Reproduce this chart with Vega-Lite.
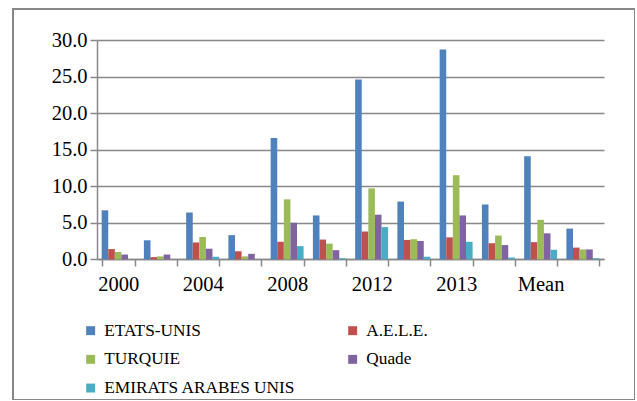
{
  "$schema": "https://vega.github.io/schema/vega-lite/v6.json",
  "autosize": {"type": "none"},
  "padding": {"left": 13, "top": 9, "right": 0, "bottom": 0},
  "width": 622,
  "height": 391,
  "background": "white",
  "config": {"view": {"stroke": "#878787", "strokeWidth": 2}, "font": "Liberation Serif"},
  "data": {"values": [
    {"period": "2000", "series": "ETATS-UNIS", "value": 6.7},
    {"period": "2000", "series": "A.E.L.E.", "value": 1.4},
    {"period": "2000", "series": "TURQUIE", "value": 1.0},
    {"period": "2000", "series": "Quade", "value": 0.65},
    {"period": "2000", "series": "EMIRATS ARABES UNIS", "value": 0.0},
    {"period": "2000_", "series": "ETATS-UNIS", "value": 2.6},
    {"period": "2000_", "series": "A.E.L.E.", "value": 0.3},
    {"period": "2000_", "series": "TURQUIE", "value": 0.4},
    {"period": "2000_", "series": "Quade", "value": 0.65},
    {"period": "2000_", "series": "EMIRATS ARABES UNIS", "value": 0.0},
    {"period": "2004", "series": "ETATS-UNIS", "value": 6.4},
    {"period": "2004", "series": "A.E.L.E.", "value": 2.3},
    {"period": "2004", "series": "TURQUIE", "value": 3.05},
    {"period": "2004", "series": "Quade", "value": 1.45},
    {"period": "2004", "series": "EMIRATS ARABES UNIS", "value": 0.35},
    {"period": "2004_", "series": "ETATS-UNIS", "value": 3.3},
    {"period": "2004_", "series": "A.E.L.E.", "value": 1.1},
    {"period": "2004_", "series": "TURQUIE", "value": 0.4},
    {"period": "2004_", "series": "Quade", "value": 0.75},
    {"period": "2004_", "series": "EMIRATS ARABES UNIS", "value": 0.0},
    {"period": "2008", "series": "ETATS-UNIS", "value": 16.6},
    {"period": "2008", "series": "A.E.L.E.", "value": 2.4},
    {"period": "2008", "series": "TURQUIE", "value": 8.2},
    {"period": "2008", "series": "Quade", "value": 5.0},
    {"period": "2008", "series": "EMIRATS ARABES UNIS", "value": 1.8},
    {"period": "2008_", "series": "ETATS-UNIS", "value": 6.0},
    {"period": "2008_", "series": "A.E.L.E.", "value": 2.7},
    {"period": "2008_", "series": "TURQUIE", "value": 2.15},
    {"period": "2008_", "series": "Quade", "value": 1.25},
    {"period": "2008_", "series": "EMIRATS ARABES UNIS", "value": 0.15},
    {"period": "2012", "series": "ETATS-UNIS", "value": 24.6},
    {"period": "2012", "series": "A.E.L.E.", "value": 3.8},
    {"period": "2012", "series": "TURQUIE", "value": 9.7},
    {"period": "2012", "series": "Quade", "value": 6.1},
    {"period": "2012", "series": "EMIRATS ARABES UNIS", "value": 4.4},
    {"period": "2012_", "series": "ETATS-UNIS", "value": 7.9},
    {"period": "2012_", "series": "A.E.L.E.", "value": 2.65},
    {"period": "2012_", "series": "TURQUIE", "value": 2.75},
    {"period": "2012_", "series": "Quade", "value": 2.5},
    {"period": "2012_", "series": "EMIRATS ARABES UNIS", "value": 0.35},
    {"period": "2013", "series": "ETATS-UNIS", "value": 28.7},
    {"period": "2013", "series": "A.E.L.E.", "value": 3.0},
    {"period": "2013", "series": "TURQUIE", "value": 11.5},
    {"period": "2013", "series": "Quade", "value": 6.0},
    {"period": "2013", "series": "EMIRATS ARABES UNIS", "value": 2.4},
    {"period": "2013_", "series": "ETATS-UNIS", "value": 7.5},
    {"period": "2013_", "series": "A.E.L.E.", "value": 2.2},
    {"period": "2013_", "series": "TURQUIE", "value": 3.25},
    {"period": "2013_", "series": "Quade", "value": 1.95},
    {"period": "2013_", "series": "EMIRATS ARABES UNIS", "value": 0.25},
    {"period": "Mean", "series": "ETATS-UNIS", "value": 14.1},
    {"period": "Mean", "series": "A.E.L.E.", "value": 2.35},
    {"period": "Mean", "series": "TURQUIE", "value": 5.4},
    {"period": "Mean", "series": "Quade", "value": 3.55},
    {"period": "Mean", "series": "EMIRATS ARABES UNIS", "value": 1.3},
    {"period": "Mean_", "series": "ETATS-UNIS", "value": 4.2},
    {"period": "Mean_", "series": "A.E.L.E.", "value": 1.6},
    {"period": "Mean_", "series": "TURQUIE", "value": 1.35},
    {"period": "Mean_", "series": "Quade", "value": 1.35},
    {"period": "Mean_", "series": "EMIRATS ARABES UNIS", "value": 0.15}
  ]},
  "mark": {"type": "bar"},
  "encoding": {
    "x": {
      "field": "period", "type": "nominal", "sort": null,
      "scale": {"range": [84, 591], "paddingInner": 0.22, "paddingOuter": 0.11},
      "axis": {
        "title": null, "orient": "bottom", "offset": -141, "tickBand": "extent",
        "labelAngle": 0, "labelExpr": "indexof(datum.label, '_') >= 0 ? '' : datum.label",
        "labelFont": "Liberation Serif", "labelFontSize": 20.5, "labelColor": "black",
        "labelPadding": 8, "tickSize": 7, "tickColor": "#888888", "tickWidth": 1.5,
        "domainColor": "#888888", "domainWidth": 1.5, "grid": false
      }
    },
    "xOffset": {
      "field": "series", "type": "nominal",
      "sort": ["ETATS-UNIS", "A.E.L.E.", "TURQUIE", "Quade", "EMIRATS ARABES UNIS"],
      "scale": {"paddingInner": 0, "paddingOuter": 0}
    },
    "y": {
      "field": "value", "type": "quantitative",
      "scale": {"domain": [0, 30], "range": [250.3, 31], "nice": false},
      "axis": {
        "title": null, "values": [0, 5, 10, 15, 20, 25, 30], "format": ".1f", "offset": -84,
        "grid": true, "gridColor": "#888888", "gridWidth": 1.5,
        "domainColor": "#888888", "domainWidth": 1.5,
        "tickSize": 7, "tickColor": "#888888", "tickWidth": 1.5,
        "labelFont": "Liberation Serif", "labelFontSize": 20.5, "labelPadding": 3, "labelColor": "black"
      }
    },
    "color": {
      "field": "series", "type": "nominal",
      "scale": {
        "domain": ["ETATS-UNIS", "TURQUIE", "EMIRATS ARABES UNIS", "A.E.L.E.", "Quade"],
        "range": ["#4F81BD", "#9BBB59", "#4BACC6", "#C0504D", "#8064A2"]
      },
      "legend": {
        "title": null, "orient": "none", "legendX": 69, "legendY": 313,
        "columns": 2, "columnPadding": 48, "rowPadding": 10.7, "padding": 0,
        "symbolType": "square", "symbolSize": 80, "symbolStrokeWidth": 0,
        "labelFont": "Liberation Serif", "labelFontSize": 17.3, "labelOffset": 5,
        "labelColor": "black", "labelLimit": 400
      }
    }
  }
}
